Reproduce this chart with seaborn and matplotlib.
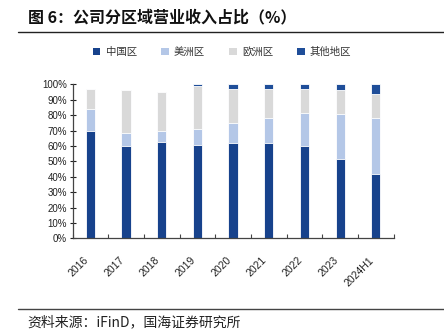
import matplotlib
matplotlib.use("Agg")
import matplotlib.pyplot as plt
import seaborn as sns
import numpy as np
import pandas as pd
from matplotlib.patches import Patch
from matplotlib.lines import Line2D

years = ["2016", "2017", "2018", "2019", "2020", "2021", "2022", "2023", "2024H1"]
china = [69.8, 60.3, 62.9, 60.9, 62.2, 61.8, 59.8, 51.6, 41.9]
americas = [14.5, 8.0, 7.1, 10.4, 12.8, 16.7, 21.5, 29.2, 36.5]
europe = [13.0, 28.1, 25.3, 27.7, 22.0, 18.5, 15.7, 15.6, 15.6]
other = [0.0, 0.0, 0.0, 1.0, 3.0, 3.0, 3.0, 3.6, 6.0]
series_names = ["中国区", "美洲区", "欧洲区", "其他地区"]
yticks = [0, 10, 20, 30, 40, 50, 60, 70, 80, 90, 100]

colors = ["#17428c", "#b4c7e7", "#d9d9d9", "#1f4e99"]

sns.set_theme(style="white")
plt.rcParams["font.family"] = ["Noto Sans CJK SC", "DejaVu Sans"]

df = pd.DataFrame({"year": years, "china": china, "americas": americas,
                   "europe": europe, "other": other})
df["c1"] = df["china"]
df["c2"] = df["c1"] + df["americas"]
df["c3"] = df["c2"] + df["europe"]
df["c4"] = df["c3"] + df["other"]

fig = plt.figure(figsize=(4.44, 3.35), dpi=100)
ax = fig.add_axes([0.1633, 0.2884, 0.7234, 0.4594])

for col, color in zip(["c4", "c3", "c2", "c1"], colors[::-1]):
    sns.barplot(data=df, x="year", y=col, color=color, width=0.26,
                edgecolor="white", linewidth=0.6, saturation=1, ax=ax)

ax.set_ylim(0, 100)
ax.set_xlim(-0.5, len(years) - 0.5)
ax.set_xlabel("")
ax.set_ylabel("")
ax.set_yticks(yticks)
ax.set_yticklabels([f"{v}%" for v in yticks], fontsize=7,
                   family=["Liberation Sans"], color="#222222")
ax.set_xticks(range(len(years)))
ax.set_xticklabels(years, rotation=45, ha="right", fontsize=7.5,
                   family=["Liberation Sans"], color="#222222")
ax.tick_params(axis="x", which="major", length=0, pad=12)
ax.set_xticks(np.arange(-0.5, len(years), 1.0), minor=True)
ax.tick_params(axis="x", which="minor", direction="in", length=3,
               width=0.8, color="#444444", bottom=True)
ax.tick_params(axis="y", direction="inout", length=4, width=0.8,
               color="#222222", left=True, pad=2)
for s in ["top", "right"]:
    ax.spines[s].set_visible(False)
for s in ["left", "bottom"]:
    ax.spines[s].set_color("#444444")
    ax.spines[s].set_linewidth(0.9)

handles = [Patch(facecolor=c, edgecolor="none") for c in colors]
fig.legend(handles, series_names, loc="center", bbox_to_anchor=(0.5, 1 - 52 / 335),
           ncol=4, frameon=False, fontsize=7.5, handlelength=0.75, handleheight=0.75,
           handletextpad=0.5, columnspacing=2.3, labelcolor="#333333")

fig.text(28 / 444, 1 - 17 / 335, "图 6：公司分区域营业收入占比（%）", fontsize=11.5,
         fontweight="bold", va="center", ha="left", color="#111111")
fig.add_artist(Line2D([18 / 444, 1.0], [1 - 31.7 / 335] * 2, color="#222222", lw=1.0))
fig.add_artist(Line2D([18 / 444, 1.0], [1 - 309 / 335] * 2, color="#444444", lw=1.0))
fig.text(27 / 444, 1 - 322 / 335, "资料来源：iFinD，国海证券研究所", fontsize=10,
         va="center", ha="left", color="#222222")

fig.savefig("out.png", dpi=100)
